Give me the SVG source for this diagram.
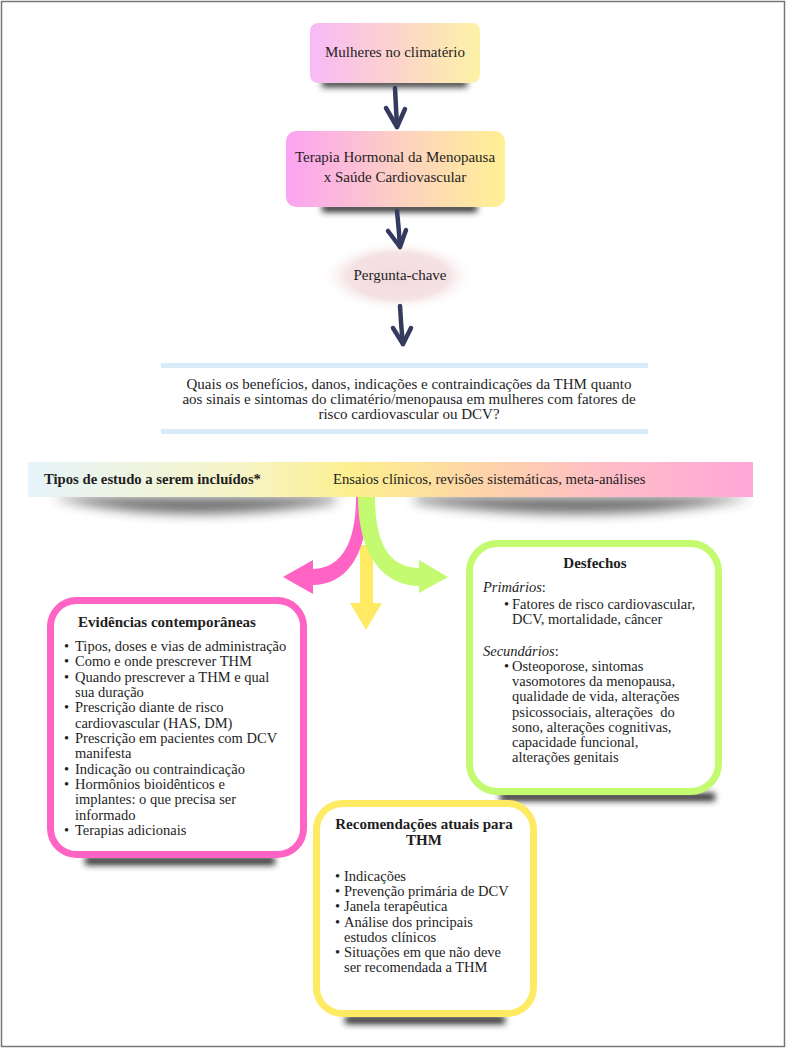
<svg xmlns="http://www.w3.org/2000/svg" width="787" height="1049" viewBox="0 0 787 1049">
<defs>
<style>
text{font-family:"Liberation Serif","Times New Roman",serif;fill:#1e1e1e;}
.t15{font-size:15px;}
.t14{font-size:14.7px;}
.q{font-size:15px;}
.body{font-size:14.5px;}
.b{font-weight:bold;}
.c{text-anchor:middle;}
.nav{fill:none;stroke:#353b5f;stroke-width:4.5;stroke-linecap:round;stroke-linejoin:round;}
.shadow{fill:#2a2a2a;filter:url(#blur);}
</style>
<filter id="blur" x="-20%" y="-200%" width="140%" height="500%"><feGaussianBlur stdDeviation="3"/></filter>
<filter id="blur6" x="-20%" y="-200%" width="140%" height="500%"><feGaussianBlur stdDeviation="6"/></filter>
<linearGradient id="g1" x1="0" y1="0" x2="1" y2="0">
<stop offset="0" stop-color="#f8b9f7"/><stop offset="0.5" stop-color="#fcd3cc"/><stop offset="1" stop-color="#fdf2a6"/>
</linearGradient>
<linearGradient id="g2" x1="0" y1="0" x2="1" y2="0">
<stop offset="0" stop-color="#fba2f2"/><stop offset="0.5" stop-color="#fdcfc4"/><stop offset="1" stop-color="#fff094"/>
</linearGradient>
<radialGradient id="gq" cx="0.5" cy="0.5" r="0.5">
<stop offset="0" stop-color="#f2dade"/><stop offset="0.65" stop-color="#f5e2e5"/><stop offset="1" stop-color="#ffffff" stop-opacity="0"/>
</radialGradient>
<linearGradient id="gb" x1="0" y1="0" x2="1" y2="0">
<stop offset="0" stop-color="#e6f4fb"/><stop offset="0.3" stop-color="#f6f4c4"/><stop offset="0.45" stop-color="#fdef8e"/><stop offset="0.62" stop-color="#fed5a8"/><stop offset="0.8" stop-color="#ffbdc7"/><stop offset="1" stop-color="#ffa7d8"/>
</linearGradient>
</defs>
<rect x="0" y="0" width="787" height="1049" fill="#ffffff"/>
<rect x="1.5" y="1.5" width="783" height="1045" fill="none" stroke="#777777" stroke-width="1.5"/>

<g id="n1">
<rect class="shadow" x="322" y="80" width="145" height="7"/>
<rect x="310" y="23" width="170" height="60" rx="8" fill="url(#g1)"/>
<text class="t15 c" x="395" y="57">Mulheres no climatério</text>
</g>

<g id="n2">
<rect class="shadow" x="322" y="204" width="155" height="8"/>
<rect x="286" y="131" width="219" height="76" rx="10" fill="url(#g2)"/>
<text class="t15 c" x="395" y="162">Terapia Hormonal da Menopausa</text>
<text class="t15 c" x="395" y="182">x Saúde Cardiovascular</text>
</g>

<g id="n3">
<ellipse cx="398" cy="276" rx="78" ry="36" fill="url(#gq)"/>
<text class="t15 c" x="400" y="280">Pergunta-chave</text>
</g>

<g id="n4">
<rect x="161" y="363" width="487" height="5" fill="#d8ebf8"/>
<rect x="161" y="429" width="487" height="5" fill="#d8ebf8"/>
<text class="q c" x="409" y="389">Quais os benefícios, danos, indicações e contraindicações da THM quanto</text>
<text class="q c" x="409" y="404">aos sinais e sintomas do climatério/menopausa em mulheres com fatores de</text>
<text class="q c" x="409" y="419">risco cardiovascular ou DCV?</text>
</g>

<g id="n5">
<path d="M55 498 Q180 527 335 502 L335 497 L55 497 Z" fill="#3a3a3a" filter="url(#blur6)" opacity="0.75"/>
<path d="M415 502 Q600 527 748 498 L748 497 L415 497 Z" fill="#3a3a3a" filter="url(#blur6)" opacity="0.75"/>
<rect x="28" y="462" width="725" height="35" fill="url(#gb)"/>
<text class="t14 b" x="44" y="484">Tipos de estudo a serem incluídos*</text>
<text class="t14" x="333" y="484">Ensaios clínicos, revisões sistemáticas, meta-análises</text>
</g>

<g id="connectors">
<path class="nav" d="M395 88 Q396 108 397 127"/>
<path class="nav" d="M386 108 L397 127 L405 109"/>
<path class="nav" d="M397 211 Q399 230 400 247"/>
<path class="nav" d="M388 231 L400 247 L406 230"/>
<path class="nav" d="M400 306 Q401 326 403 344"/>
<path class="nav" d="M393 328 L403 344 L411 328"/>
<g id="arrow-yellow">
<rect x="360" y="545" width="13" height="59" fill="#ffea63"/>
<polygon points="350,603 382,603 366,630" fill="#ffea63"/>
</g>
<g id="arrow-pink">
<path d="M356 497 C356 545 340 569 312 569 L312 585 C350 585 368 550 368 497 Z" fill="#ff64c5"/>
<polygon points="313,560 283,577 313,594" fill="#ff64c5"/>
</g>
<g id="arrow-green">
<path d="M375 497 C375 545 390 568 420 568 L420 586 C380 586 358 550 358 497 Z" fill="#c3fa6f"/>
<polygon points="419,560 448,577 419,593" fill="#c3fa6f"/>
</g>
</g>

<g id="n6">
<rect class="shadow" x="85" y="857" width="190" height="8"/>
<rect x="50.5" y="600.5" width="253" height="254" rx="26" fill="#ffffff" stroke="#ff64c5" stroke-width="7"/>
<text class="t15 b c" x="167" y="627">Evidências contemporâneas</text>
<g class="body">
<text x="64" y="651">•</text><text x="75" y="651">Tipos, doses e vias de administração</text>
<text x="64" y="666.3">•</text><text x="75" y="666.3">Como e onde prescrever THM</text>
<text x="64" y="681.7">•</text><text x="75" y="681.7">Quando prescrever a THM e qual</text>
<text x="75" y="697">sua duração</text>
<text x="64" y="712.3">•</text><text x="75" y="712.3">Prescrição diante de risco</text>
<text x="75" y="727.7">cardiovascular (HAS, DM)</text>
<text x="64" y="743">•</text><text x="75" y="743">Prescrição em pacientes com DCV</text>
<text x="75" y="758.3">manifesta</text>
<text x="64" y="773.7">•</text><text x="75" y="773.7">Indicação ou contraindicação</text>
<text x="64" y="789">•</text><text x="75" y="789">Hormônios bioidênticos e</text>
<text x="75" y="804.3">implantes: o que precisa ser</text>
<text x="75" y="819.7">informado</text>
<text x="64" y="835">•</text><text x="75" y="835">Terapias adicionais</text>
</g>
</g>

<g id="n7">
<rect class="shadow" x="500" y="793" width="215" height="8"/>
<rect x="469.5" y="543.5" width="249" height="248" rx="28" fill="#ffffff" stroke="#c3fa6f" stroke-width="7"/>
<text class="t15 b c" x="595" y="568">Desfechos</text>
<g class="body">
<text x="483" y="592"><tspan font-style="italic">Primários</tspan>:</text>
<text x="504" y="609">•</text><text x="512" y="609">Fatores de risco cardiovascular,</text>
<text x="512" y="624">DCV, mortalidade, câncer</text>
<text x="483" y="656"><tspan font-style="italic">Secundários</tspan>:</text>
<text x="504" y="671">•</text><text x="512" y="671">Osteoporose, sintomas</text>
<text x="512" y="686.2">vasomotores da menopausa,</text>
<text x="512" y="701.4">qualidade de vida, alterações</text>
<text x="512" y="716.6">psicossociais, alterações&#160; do</text>
<text x="512" y="731.8">sono, alterações cognitivas,</text>
<text x="512" y="747">capacidade funcional,</text>
<text x="512" y="762.2">alterações genitais</text>
</g>
</g>

<g id="n8">
<rect class="shadow" x="345" y="1016" width="160" height="8"/>
<rect x="316.5" y="803.5" width="217" height="210" rx="26" fill="#ffffff" stroke="#ffea63" stroke-width="7"/>
<text class="t15 b c" x="424" y="829">Recomendações atuais para</text>
<text class="t15 b c" x="424" y="845">THM</text>
<g class="body">
<text x="335" y="881">•</text><text x="344" y="881">Indicações</text>
<text x="335" y="896.2">•</text><text x="344" y="896.2">Prevenção primária de DCV</text>
<text x="335" y="911.4">•</text><text x="344" y="911.4">Janela terapêutica</text>
<text x="335" y="926.6">•</text><text x="344" y="926.6">Análise dos principais</text>
<text x="344" y="941.8">estudos clínicos</text>
<text x="335" y="957">•</text><text x="344" y="957">Situações em que não deve</text>
<text x="344" y="972.2">ser recomendada a THM</text>
</g>
</g>
</svg>
